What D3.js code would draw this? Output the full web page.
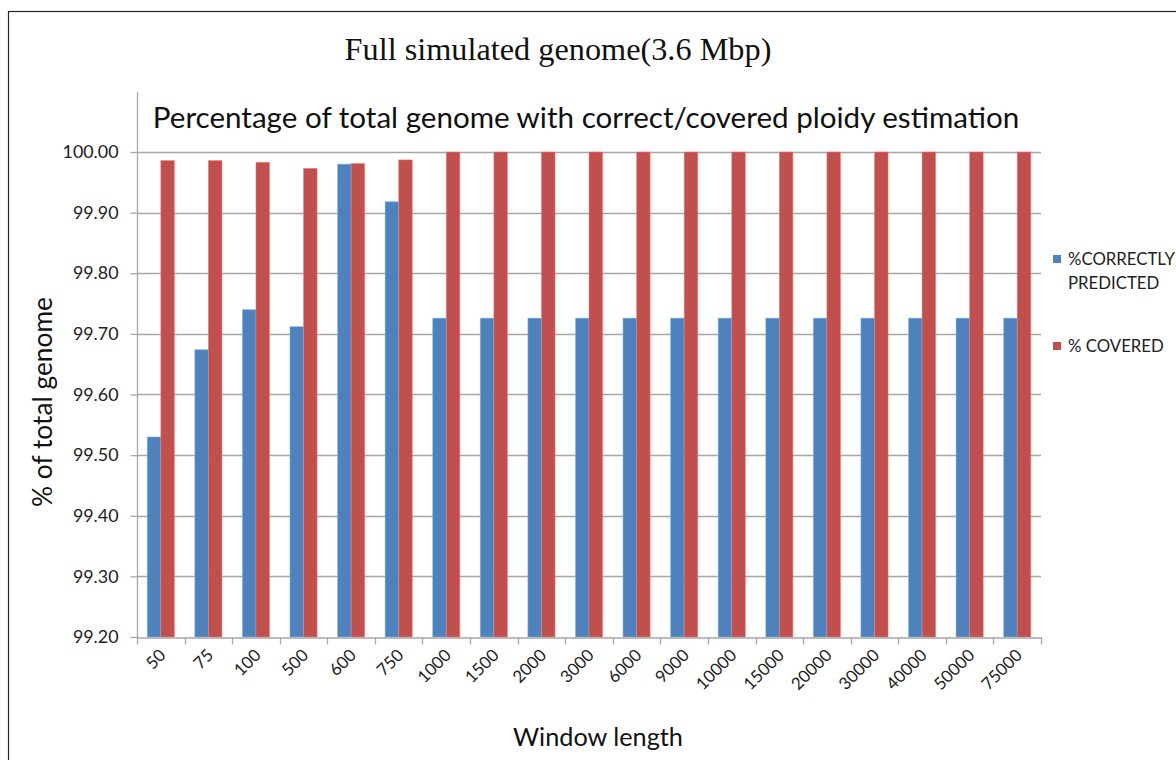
<!DOCTYPE html>
<html>
<head>
<meta charset="utf-8">
<script src="https://cdn.jsdelivr.net/npm/d3@7"></script>
<style>
  body { margin: 0; background: #fff; }
  svg { display: block; }
</style>
</head>
<body>
<div id="chart"></div>
<script>
// Data
const windowLengths = ["50", "75", "100", "500", "600", "750", "1000", "1500", "2000", "3000",
  "6000", "9000", "10000", "15000", "20000", "30000", "40000", "50000", "75000"];
const correctlyPredicted = [99.530, 99.674, 99.740, 99.712, 99.980, 99.918, 99.726, 99.726, 99.726, 99.726,
  99.726, 99.726, 99.726, 99.726, 99.726, 99.726, 99.726, 99.726, 99.726];
const covered = [99.986, 99.986, 99.983, 99.973, 99.981, 99.987, 100.00, 100.00, 100.00, 100.00,
  100.00, 100.00, 100.00, 100.00, 100.00, 100.00, 100.00, 100.00, 100.00];
const seriesNames = ["%CORRECTLY PREDICTED", "% COVERED"];
const yDomain = [99.2, 100.0];

const width = 1176;
const height = 760;
const colors = ["#4F81BD", "#C0504D"];
const sansFont = "Lato, 'Open Sans', sans-serif";

const svg = d3.select("#chart")
  .append("svg")
  .attr("width", width)
  .attr("height", height);

svg.append("rect").attr("width", width).attr("height", height).attr("fill", "#fff");

// outer frame (runs off the right and bottom of the picture)
svg.append("rect")
  .attr("x", 8.5).attr("y", 11.5)
  .attr("width", 1400).attr("height", 1000)
  .attr("fill", "none")
  .attr("stroke", "#222")
  .attr("stroke-width", 1.2);

// scale font size so the string fills a target width
function fitWidth(sel, target) {
  const w = sel.node().getComputedTextLength();
  const fs = parseFloat(sel.attr("font-size"));
  const size = fs * target / w;
  sel.attr("font-size", size);
  return size;
}

const plot = { left: 137, right: 1041, top: 152, bottom: 637 };

const x = d3.scaleBand()
  .domain(windowLengths)
  .range([plot.left, plot.right]);

const y = d3.scaleLinear()
  .domain(yDomain)
  .range([plot.bottom, plot.top]);

const barW = x.bandwidth() / 3.5;
const xSeries = d3.scaleBand()
  .domain(d3.range(seriesNames.length))
  .range([(x.bandwidth() - 2 * barW) / 2, (x.bandwidth() + 2 * barW) / 2]);

// gridlines
const yTicks = d3.range(8, -1, -1).map(i => yDomain[0] + i * 0.1);
svg.append("g")
  .selectAll("line")
  .data(yTicks.filter(t => t > yDomain[0] + 1e-9))
  .join("line")
  .attr("x1", plot.left).attr("x2", plot.right)
  .attr("y1", d => Math.round(y(d)) + 0.5)
  .attr("y2", d => Math.round(y(d)) + 0.5)
  .attr("stroke", "#a6a6a6")
  .attr("stroke-width", 1.3);

// bars
const table = windowLengths.map((w, i) => ({ w, values: [correctlyPredicted[i], covered[i]] }));
svg.append("g")
  .selectAll("g")
  .data(table)
  .join("g")
  .attr("transform", d => `translate(${x(d.w)},0)`)
  .selectAll("rect")
  .data(d => d.values.map((v, s) => ({ v, s })))
  .join("rect")
  .attr("x", d => xSeries(d.s))
  .attr("width", barW)
  .attr("y", d => y(d.v))
  .attr("height", d => y(yDomain[0]) - y(d.v))
  .attr("fill", d => colors[d.s])
  .attr("stroke", d => d3.color(colors[d.s]).brighter(1.2))
  .attr("stroke-opacity", 0.6)
  .attr("stroke-width", 0.8);

// y axis
const yAxis = svg.append("g")
  .attr("transform", `translate(${plot.left + 0.5},0)`)
  .call(d3.axisLeft(y).tickValues(yTicks).tickFormat(d3.format(".2f")).tickSize(7).tickSizeOuter(0));
yAxis.select(".domain").remove();
yAxis.append("line")
  .attr("x1", 0).attr("x2", 0)
  .attr("y1", 92).attr("y2", plot.bottom + 1)
  .attr("stroke", "#a6a6a6").attr("stroke-width", 1.3);
yAxis.selectAll(".tick line").attr("stroke", "#a6a6a6").attr("stroke-width", 1.3);
yAxis.selectAll(".tick text")
  .attr("x", -19)
  .attr("font-family", sansFont)
  .attr("font-size", 17)
  .attr("fill", "#222");
const yFs = fitWidth(yAxis.select(".tick text"), 56);
yAxis.selectAll(".tick text").attr("font-size", yFs);

// x axis
const xAxis = svg.append("g")
  .attr("transform", `translate(0,${Math.round(plot.bottom) + 0.5})`)
  .call(d3.axisBottom(x).tickSize(0));
xAxis.select(".domain").attr("stroke", "#a6a6a6").attr("stroke-width", 1.3);
// tick marks between categories
xAxis.append("g")
  .selectAll("line")
  .data(d3.range(windowLengths.length + 1))
  .join("line")
  .attr("x1", i => Math.round(plot.left + i * x.step()) + 0.5)
  .attr("x2", i => Math.round(plot.left + i * x.step()) + 0.5)
  .attr("y1", 0).attr("y2", 7)
  .attr("stroke", "#a6a6a6").attr("stroke-width", 1.3);
xAxis.selectAll(".tick text")
  .attr("font-family", sansFont)
  .attr("font-size", yFs * 0.95)
  .attr("fill", "#222")
  .attr("text-anchor", "end")
  .attr("dy", 0)
  .attr("y", 0)
  .attr("transform", `translate(6,${yFs * 1.05}) rotate(-45)`);

// titles
const title = svg.append("text")
  .attr("x", 558).attr("y", 60)
  .attr("text-anchor", "middle")
  .attr("font-family", "'Liberation Serif', 'DejaVu Serif', serif")
  .attr("font-size", 28)
  .attr("fill", "#111")
  .text("Full simulated genome(3.6 Mbp)");
fitWidth(title, 427);

const subtitle = svg.append("text")
  .attr("x", 586).attr("y", 128)
  .attr("text-anchor", "middle")
  .attr("font-family", sansFont)
  .attr("font-size", 27)
  .attr("fill", "#111")
  .text("Percentage of total genome with correct/covered ploidy estimation");
fitWidth(subtitle, 867);

const yTitle = svg.append("text")
  .attr("transform", "translate(52,402) rotate(-90)")
  .attr("text-anchor", "middle")
  .attr("font-family", sansFont)
  .attr("font-size", 22)
  .attr("fill", "#111")
  .text("% of total genome");
fitWidth(yTitle, 210);

const xTitle = svg.append("text")
  .attr("x", 598).attr("y", 746)
  .attr("text-anchor", "middle")
  .attr("font-family", sansFont)
  .attr("font-size", 22)
  .attr("fill", "#111")
  .text("Window length");
fitWidth(xTitle, 170);

// legend
const legendLines = [["%CORRECTLY", "PREDICTED"], ["% COVERED"]];
const legendY = [255, 342];
const legend = svg.append("g");
let legendFs = 16;
legendLines.forEach((lines, s) => {
  legend.append("rect")
    .attr("x", 1053).attr("y", legendY[s])
    .attr("width", 8).attr("height", 8)
    .attr("fill", colors[s]);
  const t = legend.append("text")
    .attr("x", 1068).attr("y", legendY[s] + 10)
    .attr("font-family", sansFont)
    .attr("font-size", 16)
    .attr("fill", "#222");
  lines.forEach((ln, k) => {
    t.append("tspan").attr("x", 1068).attr("dy", k === 0 ? 0 : "1.45em").text(ln);
  });
  if (s === 0) {
    const w = t.select("tspan").node().getComputedTextLength();
    legendFs = 16 * 107 / w;
  }
});
legend.selectAll("text").attr("font-size", legendFs);
</script>
</body>
</html>
